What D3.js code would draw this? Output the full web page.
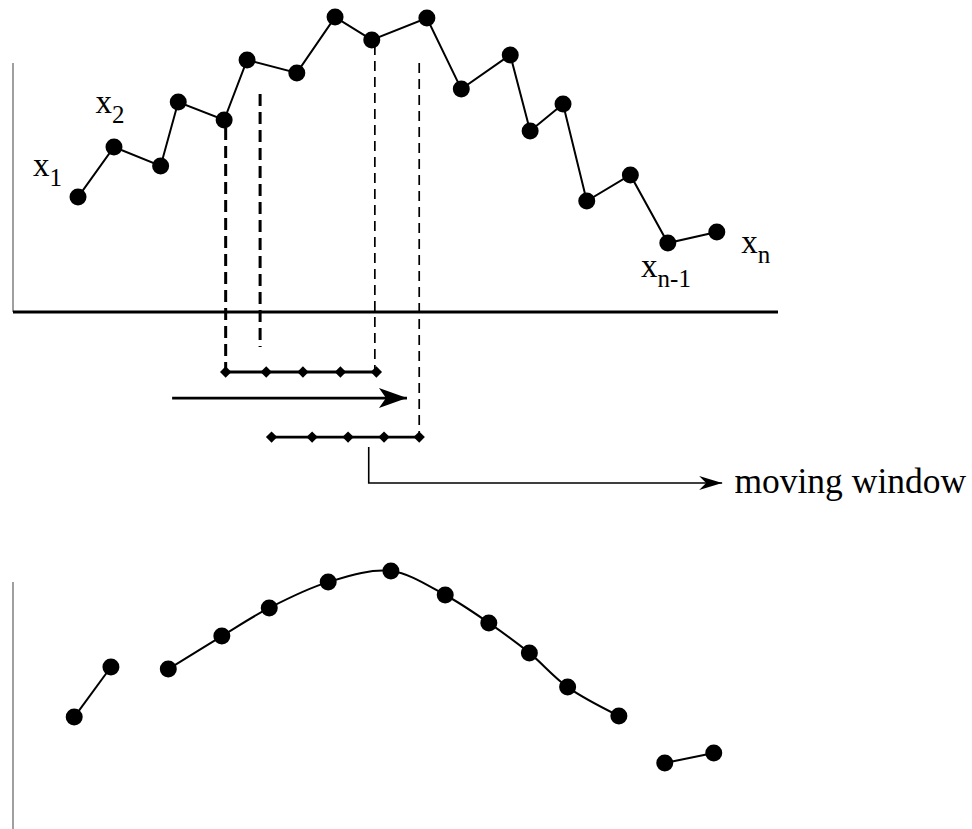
<!DOCTYPE html>
<html>
<head>
<meta charset="utf-8">
<script src="https://cdn.jsdelivr.net/npm/d3@7"></script>
<style>
  html, body { margin: 0; padding: 0; background: #fff; }
  svg { display: block; }
  text { font-family: "Liberation Serif", "Times New Roman", serif; fill: #000; }
</style>
</head>
<body>
<div id="chart"></div>
<script>
// ---------------- DATA ----------------
// Raw series (top panel): time positions and values
const rawT = [8.5, 13.2, 19.3, 21.6, 27.6, 30.6, 37.1, 42.1, 46.9, 54.1, 58.6, 65.0, 67.6, 71.9, 75.0, 80.7, 85.6, 92.0];
const rawV = [38.3, 55.0, 48.7, 70.0, 64.0, 84.0, 79.7, 98.3, 90.7, 98.0, 74.3, 85.7, 60.3, 69.3, 37.0, 45.7, 23.0, 26.7];

// Smoothed series (bottom panel), split in three drawn pieces
const smoothT = [8.0, 12.8, 20.3, 27.3, 33.5, 41.2, 49.4, 56.5, 62.2, 67.5, 72.5, 79.2, 85.2, 91.6];
const smoothV = [37.3, 54.0, 53.3, 64.3, 73.7, 82.3, 86.0, 78.0, 68.7, 58.7, 47.3, 37.7, 22.0, 25.3];
const smoothSegments = [[0, 1], [2, 11], [12, 13]]; // index ranges
const smoothCurved = [false, true, false];

// Moving window positions (time units) and their levels below the axis
const window1T = [27.8, 33.1, 37.9, 42.8, 47.5];
const window2T = [33.8, 39.1, 43.8, 48.5, 53.1];
const windowLevels = [-20, -41.7];

// Dashed guide lines: t, top value, bottom value, heavy?
const guideT = [27.8, 32.3, 47.3, 53.1];
const guideTop = [61.3, 72.7, 89.0, 83.0];
const guideBottom = [-20, -11.7, -20, -41.7];
const guideHeavy = [true, true, false, false];

// Moving arrow
const arrowT = [20.8, 51.5];
const arrowLevel = -28.7;

// Connector to label
const connectorT = [46.5, 92.7];
const connectorLevels = [-45, -57];
const labelText = "moving window";
const labelPos = [94.3, -60.3];

// Point labels: main, subscript, t, value
const pointLabelMain = ["x", "x", "x", "x"];
const pointLabelSub = ["1", "2", "n-1", "n"];
const pointLabelT = [2.6, 10.8, 82.1, 95.2];
const pointLabelV = [45.3, 66.3, 11.7, 19.7];

// ---------------- LAYOUT ----------------
const W = 972, H = 829;
const svg = d3.select("#chart").append("svg").attr("width", W).attr("height", H);

const x = d3.scaleLinear().domain([0, 100]).range([13, 778]);
const yTop = d3.scaleLinear().domain([0, 100]).range([312, 12]);
const yBot = d3.scaleLinear().domain([0, 100]).range([829, 529]);

// arrow markers (tip placed exactly at the line end)
const defs = svg.append("defs");
defs.append("marker")
  .attr("id", "bigArrow").attr("markerUnits", "userSpaceOnUse")
  .attr("viewBox", "-32 -12 34 24").attr("refX", 0).attr("refY", 0)
  .attr("markerWidth", 34).attr("markerHeight", 24).attr("orient", "auto")
  .append("path").attr("d", "M0,0 L-28,-10 L-21,0 L-28,10 Z").attr("fill", "#000");
defs.append("marker")
  .attr("id", "smallArrow").attr("markerUnits", "userSpaceOnUse")
  .attr("viewBox", "-26 -9 28 18").attr("refX", 0).attr("refY", 0)
  .attr("markerWidth", 28).attr("markerHeight", 18).attr("orient", "auto")
  .append("path").attr("d", "M0,0 L-23,-7 L-16,0 L-23,7 Z").attr("fill", "#000");

// ---------------- TOP PANEL ----------------
// left axis (gray) and baseline
svg.append("line")
  .attr("x1", x(0)).attr("x2", x(0)).attr("y1", yTop(83)).attr("y2", yTop(0))
  .attr("stroke", "#808080").attr("stroke-width", 1.5);
svg.append("line")
  .attr("x1", x(0)).attr("x2", x(100)).attr("y1", yTop(0)).attr("y2", yTop(0))
  .attr("stroke", "#000").attr("stroke-width", 3);

// dashed guides
guideT.forEach((t, i) => {
  svg.append("line")
    .attr("x1", x(t)).attr("x2", x(t))
    .attr("y1", yTop(guideTop[i])).attr("y2", yTop(guideBottom[i]))
    .attr("stroke", "#000")
    .attr("stroke-width", guideHeavy[i] ? 3 : 1.7)
    .attr("stroke-dasharray", guideHeavy[i] ? "12,6" : "10,6");
});

// raw line + points
const rawData = rawT.map((t, i) => [t, rawV[i]]);
svg.append("path")
  .datum(rawData)
  .attr("d", d3.line().x(d => x(d[0])).y(d => yTop(d[1])))
  .attr("fill", "none").attr("stroke", "#000").attr("stroke-width", 2);
svg.selectAll("circle.raw").data(rawData).enter().append("circle")
  .attr("class", "raw")
  .attr("cx", d => x(d[0])).attr("cy", d => yTop(d[1])).attr("r", 8.5)
  .attr("fill", "#000");

// point labels
pointLabelMain.forEach((m, i) => {
  const t = svg.append("text")
    .attr("x", x(pointLabelT[i])).attr("y", yTop(pointLabelV[i]))
    .attr("font-size", 33);
  t.append("tspan").text(m);
  t.append("tspan").attr("dy", 10).attr("font-size", 25).text(pointLabelSub[i]);
});

// moving windows
[window1T, window2T].forEach((wt, k) => {
  const lvl = windowLevels[k];
  svg.append("line")
    .attr("x1", x(wt[0])).attr("x2", x(wt[wt.length - 1]))
    .attr("y1", yTop(lvl)).attr("y2", yTop(lvl))
    .attr("stroke", "#000").attr("stroke-width", 2.8);
  svg.selectAll(null).data(wt).enter().append("path")
    .attr("d", d3.symbol().type(d3.symbolSquare).size(64)())
    .attr("transform", d => `translate(${x(d)},${yTop(lvl)}) rotate(45)`)
    .attr("fill", "#000");
});

// moving arrow
svg.append("line")
  .attr("x1", x(arrowT[0])).attr("x2", x(arrowT[1]))
  .attr("y1", yTop(arrowLevel)).attr("y2", yTop(arrowLevel))
  .attr("stroke", "#000").attr("stroke-width", 2.8)
  .attr("marker-end", "url(#bigArrow)");

// connector to label
svg.append("path")
  .attr("d", d3.line()([
    [x(connectorT[0]), yTop(connectorLevels[0])],
    [x(connectorT[0]), yTop(connectorLevels[1])],
    [x(connectorT[1]), yTop(connectorLevels[1])]
  ]))
  .attr("fill", "none").attr("stroke", "#000").attr("stroke-width", 1.6)
  .attr("marker-end", "url(#smallArrow)");

svg.append("text")
  .attr("x", x(labelPos[0])).attr("y", yTop(labelPos[1]))
  .attr("font-size", 35.5)
  .text(labelText);

// ---------------- BOTTOM PANEL ----------------
svg.append("line")
  .attr("x1", x(0)).attr("x2", x(0)).attr("y1", yBot(82.3)).attr("y2", yBot(0))
  .attr("stroke", "#808080").attr("stroke-width", 1.5);

const smoothData = smoothT.map((t, i) => [t, smoothV[i]]);
smoothSegments.forEach((seg, k) => {
  const pts = smoothData.slice(seg[0], seg[1] + 1);
  svg.append("path")
    .datum(pts)
    .attr("d", d3.line().x(d => x(d[0])).y(d => yBot(d[1]))
      .curve(smoothCurved[k] ? d3.curveCatmullRom.alpha(0.5) : d3.curveLinear))
    .attr("fill", "none").attr("stroke", "#000").attr("stroke-width", 2);
});
svg.selectAll("circle.smooth").data(smoothData).enter().append("circle")
  .attr("class", "smooth")
  .attr("cx", d => x(d[0])).attr("cy", d => yBot(d[1])).attr("r", 8.5)
  .attr("fill", "#000");
</script>
</body>
</html>
